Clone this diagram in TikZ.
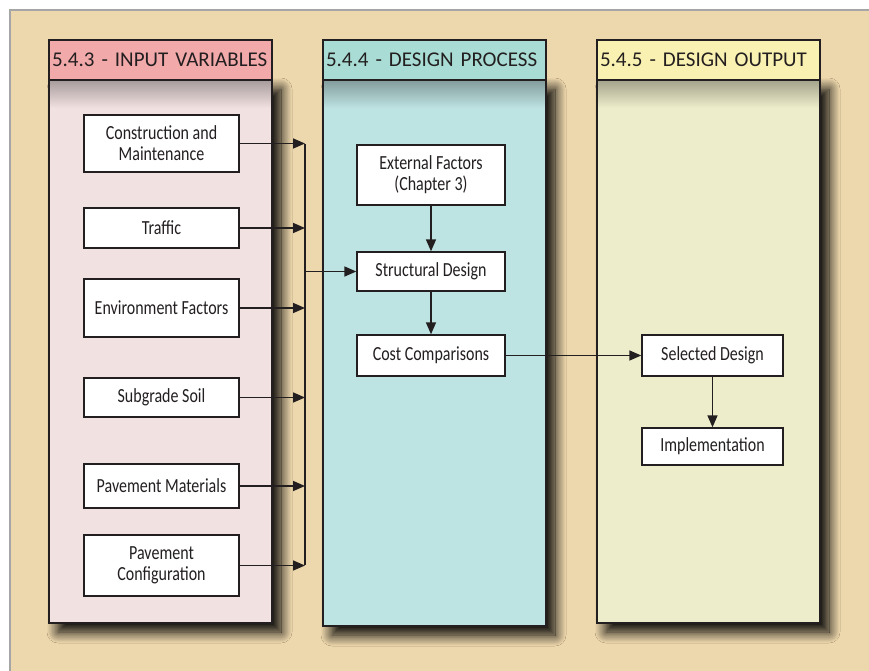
\documentclass[tikz,border=0pt]{standalone}
\usepackage{fontspec}
\setmainfont{Carlito}
\newfontfamily\condfont[FakeStretch=0.8]{Carlito}
\usetikzlibrary{shadows.blur,arrows.meta}
\definecolor{bgtan}{HTML}{EDD7AC}
\definecolor{pinkhead}{HTML}{F2A9AA}
\definecolor{pinkbody}{HTML}{F2E1E1}
\definecolor{tealhead}{HTML}{A8DCD4}
\definecolor{tealbody}{HTML}{BDE3E2}
\definecolor{yelhead}{HTML}{F9F1B1}
\definecolor{yelbody}{HTML}{EEEDCB}
\definecolor{ink}{HTML}{231F20}
\tikzset{
  colbody/.style={draw=ink, line width=1.8pt, minimum width=223pt, inner sep=0pt,
    blur shadow={shadow xshift=9pt, shadow yshift=-9pt, shadow blur radius=11pt, shadow blur steps=14, shadow opacity=100}},
  colhead/.style={draw=ink, line width=1.8pt, minimum width=223pt, minimum height=40pt, inner xsep=3pt,
    text width=217pt, align=left, font=\fontsize{21}{24}\selectfont, text=ink},
  stepbox/.style={draw=ink, fill=white, line width=1.4pt, minimum width=155pt, inner sep=2pt,
    align=center, font=\condfont\fontsize{20}{22}\selectfont, text=ink},
  arr/.style={draw=ink, line width=1.6pt, -{Triangle[length=12pt,width=10pt]}},
  ln/.style={draw=ink, line width=1.8pt}
}
\begin{document}
\begin{tikzpicture}[x=1pt,y=-1pt]
\useasboundingbox (0,0) rectangle (869,671);
\fill[white] (0,0) rectangle (869,671);
\fill[bgtan] (10,10) rectangle (869,671);
\draw[gray!70, line width=1.2pt] (10,671) -- (10,10) -- (869,10);

% columns
\node[colbody, fill=pinkbody, minimum height=543pt] (c1) at (160.5,351.5) {};
\node[colbody, fill=tealbody, minimum height=546pt] (c2) at (434.5,353) {};
\node[colbody, fill=yelbody, minimum height=543pt] (c3) at (708.5,351.5) {};
\shade[top color=pinkbody!70!black, bottom color=pinkbody] (50,81) rectangle (271,108);
\shade[top color=tealbody!70!black, bottom color=tealbody] (324,81) rectangle (545,108);
\shade[top color=yelbody!70!black, bottom color=yelbody] (598,81) rectangle (819,108);
\draw[ink, line width=1.8pt] (49,40) rectangle (272,623);
\draw[ink, line width=1.8pt] (323,40) rectangle (546,626);
\draw[ink, line width=1.8pt] (597,40) rectangle (820,623);
\node[colhead, fill=pinkhead] (h1) at (160.5,60) {5.4.3 - INPUT VARIABLES};
\node[colhead, fill=tealhead] (h2) at (434.5,60) {5.4.4 - DESIGN PROCESS};
\node[colhead, fill=yelhead] (h3) at (708.5,60) {5.4.5 - DESIGN OUTPUT};

% input boxes
\node[stepbox, minimum height=57pt] (cm) at (161.5,143.5) {Construction and\\[-1pt]Maintenance};
\node[stepbox, minimum height=40pt] (tr) at (161.5,228) {Traffic};
\node[stepbox, minimum height=58pt] (ef) at (161.5,308) {Environment Factors};
\node[stepbox, minimum height=39pt] (ss) at (161.5,397.5) {Subgrade Soil};
\node[stepbox, minimum height=44pt] (pm) at (161.5,486) {Pavement Materials};
\node[stepbox, minimum height=61pt] (pc) at (161.5,565.5) {Pavement\\[-1pt]Configuration};

% process boxes
\node[stepbox, minimum width=148pt, minimum height=60pt] (xf) at (431,175) {External Factors\\[-1pt](Chapter 3)};
\node[stepbox, minimum width=148pt, minimum height=39pt] (sd) at (431,271.5) {Structural Design};
\node[stepbox, minimum width=148pt, minimum height=41pt] (cc) at (431,355.5) {Cost Comparisons};

% output boxes
\node[stepbox, minimum width=141pt, minimum height=41pt] (sel) at (712.5,355.5) {Selected Design};
\node[stepbox, minimum width=141pt, minimum height=37pt] (imp) at (712.5,446.5) {Implementation};

% bracket
\coordinate (bx) at (305,0);
\foreach \n in {cm,tr,ef,ss,pm,pc} {\draw[arr] (\n.east) -- (\n.east -| bx);}
\draw[ln] ([yshift=-0.8pt]cm.east -| bx) -- ([yshift=0.8pt]pc.east -| bx);
\draw[arr] (sd.west -| bx) -- (sd.west);

\draw[arr] (xf) -- (sd);
\draw[arr] (sd) -- (cc);
\draw[arr] (cc) -- (sel);
\draw[arr] (sel) -- (imp);
\end{tikzpicture}
\end{document}
